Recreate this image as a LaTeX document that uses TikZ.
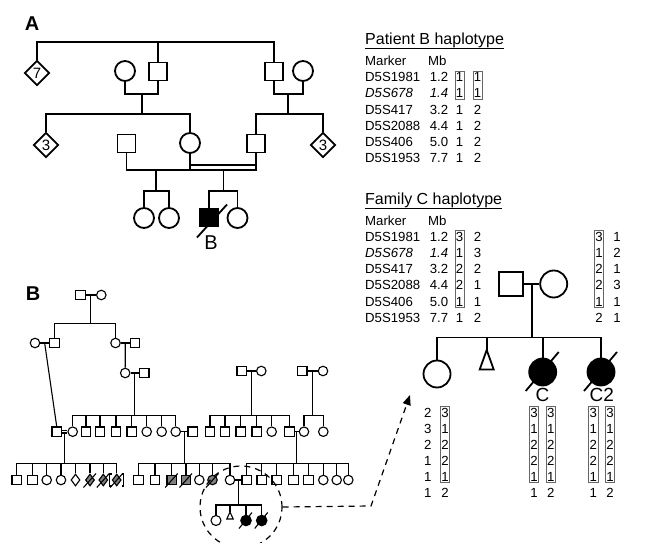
\documentclass[tikz,border=0pt]{standalone}
\usepackage{fontspec}
\setmainfont{Liberation Sans}
\usetikzlibrary{shapes.geometric,calc,fit,arrows.meta}

\tikzset{
    thk/.style = {line width = 1.8pt},
    thn/.style = {line width = 1.1pt},
    sqA/.style = {draw = black, line width = 1.8pt, minimum size = 18pt, inner sep = 0pt},
    ciA/.style = {circle, draw = black, line width = 1.8pt, minimum size = 20pt, inner sep = 0pt},
    diA/.style = {diamond, draw = black, line width = 1.8pt, minimum size = 25pt, inner sep = 0pt, font = \fontsize{15}{15}\selectfont},
    sqb/.style = {draw = black, line width = 1.1pt, minimum size = 9.5pt, inner sep = 0pt},
    cib/.style = {circle, draw = black, line width = 1.1pt, minimum size = 9.5pt, inner sep = 0pt},
    dib/.style = {diamond, draw = black, line width = 1.1pt, minimum width = 9pt, minimum height = 12pt, inner sep = 0pt},
    sqg/.style = {sqb, fill = gray},
    cig/.style = {cib, fill = gray},
    dig/.style = {dib, fill = gray},
    cif/.style = {cib, fill = black, minimum size = 10.5pt},
    txt/.style = {inner sep = 0pt, font = \fontsize{13.2}{15}\selectfont},
    ttl/.style = {inner sep = 0pt, font = \fontsize{16}{18}\selectfont, anchor = base west},
    hbox/.style = {draw = black!60, line width = .7pt, inner xsep = .7pt, inner ysep = 1.6pt},
    dsh/.style = {line width = 1.2pt, dash pattern = on 6pt off 5pt}
}

\begin{document}
\begin{tikzpicture}[x = 1pt, y = -1pt]
    \useasboundingbox (0,0) rectangle (661,543);

    % panel A
    \node[inner sep = 0pt, font = \fontsize{20}{20}\selectfont\bfseries] (labA) at (32,24) {A};
    \node[diA] (dA7) at (37,73) {7};
    \node[ciA] (ciA1) at (125,71) {};
    \node[sqA] (sqA1) at (158,71.5) {};
    \node[sqA] (sqA2) at (274,71.5) {};
    \node[ciA] (ciA2) at (303,71) {};
    \coordinate (tA) at (158,42.3);
    \draw[thk] (dA7.north) |- (tA) -| (sqA2.north);
    \draw[thk] (tA) -- (sqA1.north);
    \coordinate (mA1) at (142,94);
    \coordinate (mA2) at (288,94);
    \draw[thk] (ciA1.south) |- (mA1) -| (sqA1.south);
    \draw[thk] (sqA2.south) |- (mA2) -| (ciA2.south);

    \node[diA] (dA3a) at (46,145) {3};
    \node[sqA] (sqA3) at (126.5,143.5) {};
    \node[ciA] (ciA3) at (190,143) {};
    \node[sqA] (sqA4) at (256,143.5) {};
    \node[diA] (dA3b) at (323,145) {3};
    \coordinate (sA1) at (142,114);
    \coordinate (sA2) at (288,114);
    \draw[thk] (mA1) -- (sA1);
    \draw[thk] (mA2) -- (sA2);
    \draw[thk] (dA3a.north) |- (sA1) -| (ciA3.north);
    \draw[thk] (sqA4.north) |- (sA2) -| (dA3b.north);

    \coordinate (jA) at (190,170);
    \coordinate (jA2) at (190,164.7);
    \draw[thk] (sqA3.south) |- (jA) -| (sqA4.south);
    \draw[thk] (ciA3.south) -- (jA);
    \draw[thk] (jA2) -- (jA2 -| sqA4.south);

    \node[ciA] (ciA4) at (144,218) {};
    \node[ciA] (ciA5) at (169,218) {};
    \node[sqA, fill = black] (sqB) at (209,217.5) {};
    \node[ciA] (ciA6) at (237.5,218) {};
    \coordinate (dA1) at (156,170);
    \coordinate (kA1) at (156,191);
    \coordinate (dA2) at (223.5,170);
    \coordinate (kA2) at (223.5,191);
    \draw[thk] (dA1) -- (kA1);
    \draw[thk] (dA2) -- (kA2);
    \draw[thk] (ciA4.north) |- (kA1) -| (ciA5.north);
    \draw[thk] (sqB.north) |- (kA2) -| (ciA6.north);
    \draw[thk] (sqB.center) ++(-12,20) -- ++(30,-33);
    \node[inner sep = 0pt, font = \fontsize{20}{20}\selectfont] (labPB) at (211,243) {B};

    % patient B haplotype
    \node[ttl] (ttlB) at (365,44.5) {Patient B haplotype};
    \draw[line width = .9pt] ([yshift = -4pt]ttlB.base west) -- ([yshift = -4pt]ttlB.base east);
    \node[txt, anchor = west] (mkB) at (365,61) {Marker};
    \node[txt, anchor = west] (mbB) at (428,61) {Mb};
    \foreach \m/\v/\a/\b [count = \i] in {D5S1981/1.2/1/1, {\textit{D5S678}}/{\textit{1.4}}/1/1, D5S417/3.2/1/2, D5S2088/4.4/1/2, D5S406/5.0/1/2, D5S1953/7.7/1/2}
        {
            \pgfmathsetmacro\yy{61 + \i * 16.2};
            \node[txt, anchor = west] (pbm\i) at (365,\yy) {\m};
            \node[txt] (pbv\i) at (439,\yy) {\v};
            \node[txt] (pba\i) at (459.5,\yy) {\a};
            \node[txt] (pbb\i) at (477.5,\yy) {\b};
        }
    \node[hbox, fit = (pba1)(pba2)] (bxB1) {};
    \node[hbox, fit = (pbb1)(pbb2)] (bxB2) {};

    % family C haplotype
    \node[ttl] (ttlC) at (365,204.3) {Family C haplotype};
    \draw[line width = .9pt] ([yshift = -4pt]ttlC.base west) -- ([yshift = -4pt]ttlC.base east);
    \node[txt, anchor = west] (mkC) at (365,220.5) {Marker};
    \node[txt, anchor = west] (mbC) at (428,220.5) {Mb};
    \foreach \m/\v/\a/\b/\c/\d [count = \i] in {D5S1981/1.2/3/2/3/1, {\textit{D5S678}}/{\textit{1.4}}/1/3/1/2, D5S417/3.2/2/2/2/1, D5S2088/4.4/2/1/2/3, D5S406/5.0/1/1/1/1, D5S1953/7.7/1/2/2/1}
        {
            \pgfmathsetmacro\yy{220.5 + \i * 16.2};
            \node[txt, anchor = west] (fcm\i) at (365,\yy) {\m};
            \node[txt] (fcv\i) at (439,\yy) {\v};
            \node[txt] (fca\i) at (459.5,\yy) {\a};
            \node[txt] (fcb\i) at (477.5,\yy) {\b};
            \node[txt] (fcc\i) at (599,\yy) {\c};
            \node[txt] (fcd\i) at (617,\yy) {\d};
        }
    \node[hbox, fit = (fca1)(fca5)] (bxC1) {};
    \node[hbox, fit = (fcc1)(fcc5)] (bxC2) {};

    % family C pedigree
    \node[draw = black, line width = 1.8pt, minimum size = 24pt, inner sep = 0pt] (sqC) at (511,284) {};
    \node[circle, draw = black, line width = 1.8pt, minimum size = 27pt, inner sep = 0pt] (ciC) at (553.7,284) {};
    \draw[thk] (sqC) -- (ciC);
    \coordinate (sC) at ($(sqC.east)!.5!(ciC.west) + (0,53.5)$);
    \draw[thk] ($(sqC.east)!.5!(ciC.west)$) -- (sC);
    \node[circle, draw = black, line width = 1.8pt, minimum size = 27pt, inner sep = 0pt] (ciC1) at (437,374) {};
    \coordinate (tC) at (486.7,350);
    \node[circle, draw = black, fill = black, line width = 1.8pt, minimum size = 27pt, inner sep = 0pt] (fcC1) at (542.7,372) {};
    \node[circle, draw = black, fill = black, line width = 1.8pt, minimum size = 27pt, inner sep = 0pt] (fcC2) at (601,372) {};
    \draw[thk] (ciC1.north) |- (sC) -| (fcC2.north);
    \draw[thk] (tC) -- (tC |- sC);
    \draw[thk] (fcC1.north) -- (fcC1.north |- sC);
    \draw[thk, line join = miter] (tC) -- ++(7,19.5) -- ++(-14,0) -- cycle;
    \draw[thk] (fcC1.center) ++(-17,19) -- ++(33,-39);
    \draw[thk] (fcC2.center) ++(-17,19) -- ++(33,-39);
    \node[inner sep = 0pt, font = \fontsize{19}{19}\selectfont] (labC) at (542.5,395) {C};
    \node[inner sep = 0pt, font = \fontsize{19}{19}\selectfont] (labC2) at (601.7,395) {C2};

    % haplotypes below family C
    \foreach \p/\q/\r/\s [count = \i] in {2/3/3/3, 3/1/1/1, 2/2/2/2, 1/2/2/2, 1/1/1/1, 1/2/1/2}
        {
            \pgfmathsetmacro\yy{396.5 + \i * 16};
            \node[txt] (hc\i) at (427.7,\yy) {\p};
            \node[txt] (hd\i) at (445,\yy) {\q};
            \node[txt] (he\i) at (534,\yy) {\r};
            \node[txt] (hf\i) at (550.7,\yy) {\s};
            \node[txt] (hg\i) at (593.3,\yy) {\r};
            \node[txt] (hh\i) at (610,\yy) {\s};
        }
    \foreach \n in {hd, he, hf, hg, hh}
        \node[hbox, fit = (\n1)(\n5)] (bx\n) {};

    % panel B
    \node[inner sep = 0pt, font = \fontsize{20}{20}\selectfont\bfseries] (labB) at (33,294) {B};
    \node[sqb] (g1a) at (80.5,295) {};
    \node[cib] (g1b) at (101.3,295) {};
    \draw[thn] (g1a) -- (g1b);
    \coordinate (s2) at ($(g1a)!.5!(g1b) + (0,28.3)$);
    \draw[thn] ($(g1a)!.5!(g1b)$) -- (s2);

    \node[cib] (g2a) at (35,343) {};
    \node[sqb] (g2b) at (54.3,343) {};
    \node[cib] (g2c) at (115.5,343) {};
    \node[sqb] (g2d) at (135,343) {};
    \draw[thn] (g2b.north) |- (s2) -| (g2c.north);
    \draw[thn] (g2a) -- (g2b);
    \draw[thn] (g2c) -- (g2d);

    \node[cib] (g3a) at (125.2,373) {};
    \node[sqb] (g3b) at (144.2,373) {};
    \draw[thn] ($(g2c)!.5!(g2d)$) -- (g3a.north);
    \draw[thn] (g3a) -- (g3b);
    \node[sqb] (g3c) at (241.7,371) {};
    \node[cib] (g3d) at (261.3,371) {};
    \node[sqb] (g3e) at (302.2,371) {};
    \node[cib] (g3f) at (323,371) {};
    \draw[thn] (g3c) -- (g3d);
    \draw[thn] (g3e) -- (g3f);

    % generation IV
    \foreach \x/\s [count = \i] in {72.7/cib, 86/sqb, 100/sqb, 116/sqb, 131.7/sqb, 146.7/cib, 161.7/cib, 175.7/cib}
        \node[\s] (g4a\i) at (\x,431.7) {};
    \foreach \x/\s [count = \i] in {210/sqb, 225/sqb, 240.7/sqb, 256.7/sqb, 271.7/cib, 289.3/sqb}
        \node[\s] (g4c\i) at (\x,431.7) {};
    \node[cib] (g4d1) at (304,431.7) {};
    \node[cib] (g4d2) at (323.3,431.7) {};
    \node[sqb] (g4s) at (56.7,431.7) {};
    \node[sqb] (g4b) at (192.7,431.7) {};
    \coordinate (s4a) at ($(g3a)!.5!(g3b) + (0,42.7)$);
    \coordinate (s4c) at ($(g3c)!.5!(g3d) + (0,44.7)$);
    \coordinate (s4d) at ($(g3e)!.5!(g3f) + (0,44.7)$);
    \draw[thn] ($(g3a)!.5!(g3b)$) -- (s4a);
    \draw[thn] ($(g3c)!.5!(g3d)$) -- (s4c);
    \draw[thn] ($(g3e)!.5!(g3f)$) -- (s4d);
    \draw[thn] (g4a1.north) |- (s4a) -| (g4a8.north);
    \foreach \i in {2,...,7}
        \draw[thn] (g4a\i.north) -- (g4a\i.north |- s4a);
    \draw[thn] (g4c1.north) |- (s4c) -| (g4c6.north);
    \foreach \i in {2,...,5}
        \draw[thn] (g4c\i.north) -- (g4c\i.north |- s4c);
    \draw[thn] (g4d1.north) |- (s4d) -| (g4d2.north);
    \draw[thn] ($(g2a.east)!.5!(g2b.west)$) -- (g4s.north);
    \draw[thn, double, double distance = 1.4pt] (g4s) -- (g4a1);
    \draw[thn] (g4a8) -- (g4b);
    \draw[thn] (g4c6) -- (g4d1);

    % generation V
    \foreach \x/\s [count = \i] in {16.7/sqb, 32.3/sqb, 46.7/cib, 61/cib, 75.5/dib, 90/dig, 103.3/dig, 116.7/dig}
        \node[\s] (g5a\i) at (\x,480) {};
    \foreach \x/\s [count = \i] in {138.3/sqb, 155/sqb, 171.7/sqg, 186/sqg, 199.3/cib, 212.5/cig, 230/cib}
        \node[\s] (g5b\i) at (\x,480) {};
    \foreach \x/\s [count = \i] in {246.7/sqb, 261.7/sqb, 276.7/sqb, 293.3/sqb, 308.3/sqb, 323.3/cib, 336.7/cib, 348.3/cib}
        \node[\s] (g5c\i) at (\x,480) {};
    \coordinate (s5a) at ($(g4s.east)!.5!(g4a1.west) + (0,31.6)$);
    \coordinate (s5b) at ($(g4a8)!.5!(g4b) + (0,31.6)$);
    \coordinate (s5c) at ($(g4c6)!.5!(g4d1) + (0,31.6)$);
    \draw[thn] ($(g4s.east)!.5!(g4a1.west)$) -- (s5a);
    \draw[thn] ($(g4a8)!.5!(g4b)$) -- (s5b);
    \draw[thn] ($(g4c6)!.5!(g4d1)$) -- (s5c);
    \draw[thn] (g5a1.north) |- (s5a) -| (g5a8.north);
    \foreach \i in {2,...,7}
        \draw[thn] (g5a\i.north) -- (g5a\i.north |- s5a);
    \draw[thn] (g5b1.north) |- (s5b) -| (g5b7.north);
    \foreach \i in {2,...,6}
        \draw[thn] (g5b\i.north) -- (g5b\i.north |- s5b);
    \draw[thn] (g5c1.north) |- (s5c) -| (g5c8.north);
    \foreach \i in {2,...,7}
        \draw[thn] (g5c\i.north) -- (g5c\i.north |- s5c);
    \draw[thn] (g5b7) -- (g5c1);
    \draw[thn] (g5a8.center) ++(-5,-6) -- ++(-2,0) -- ++(0,12) -- ++(2,0);
    \draw[thn] (g5a8.center) ++(5,-6) -- ++(2,0) -- ++(0,12) -- ++(-2,0);

    % generation VI
    \node[cib, minimum size = 10pt] (g61) at (216,520.5) {};
    \coordinate (g62) at (230,512);
    \node[cif] (g63) at (246,520.5) {};
    \node[cif] (g64) at (261.7,520.5) {};
    \coordinate (s6) at ($(g5b7)!.5!(g5c1) + (0,25)$);
    \draw[thn] ($(g5b7)!.5!(g5c1)$) -- (s6);
    \draw[thn] (g61.north) |- (s6) -| (g64.north);
    \draw[thn] (g62) -- (g62 |- s6);
    \draw[thn] (g63.north) -- (g63.north |- s6);
    \draw[thn, line join = miter] (g62) -- ++(3.2,7) -- ++(-6.4,0) -- cycle;

    % deceased marks
    \foreach \n in {g5a6, g5a7, g5a8, g5b3, g5b4, g5b6}
        \draw[thn] (\n.center) ++(-6.5,7.5) -- ++(12.5,-14);
    \foreach \n in {g63, g64}
        \draw[thn] (\n.center) ++(-7,8) -- ++(13,-16);

    % zoom to family C
    \node[circle, draw = black, dsh, minimum size = 82pt, inner sep = 0pt] (ring) at (241,507) {};
    \coordinate (bend) at (371,506);
    \coordinate (tipC) at (410,395);
    \draw[dsh, -{Triangle[length = 10pt, width = 8pt]}] (ring.east) -- (bend) -- (tipC);
\end{tikzpicture}
\end{document}
